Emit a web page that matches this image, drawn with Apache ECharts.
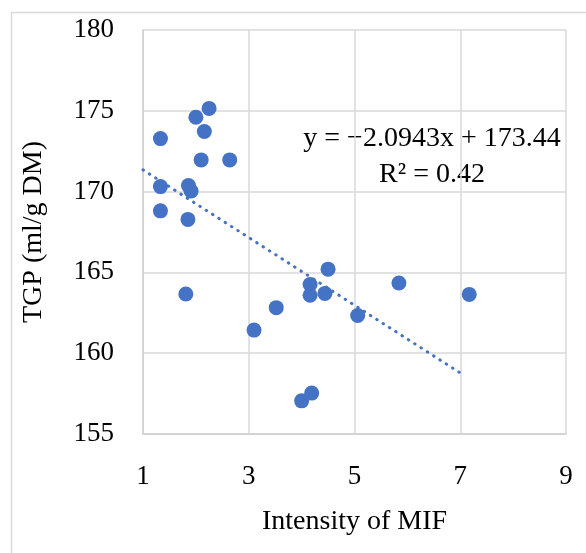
<!DOCTYPE html>
<html>
<head>
<meta charset="utf-8">
<script src="https://cdn.jsdelivr.net/npm/echarts@6/dist/echarts.min.js"></script>
<style>html,body{margin:0;padding:0;background:#fff}#c{width:586px;height:553px}</style>
</head>
<body>
<div id="c"></div>
<script>
var mifIntensity = [1.33, 2.00, 2.25, 2.16, 2.10, 2.64, 1.33, 1.86, 1.91, 1.33, 1.85, 1.81, 3.10, 3.52, 4.00, 4.19, 4.16, 4.16, 4.44, 4.50, 5.06, 5.84, 7.17];
var tgpValues   = [173.28, 174.60, 175.15, 173.72, 171.96, 171.96, 170.31, 170.37, 170.04, 168.81, 168.28, 163.66, 161.43, 162.82, 157.05, 157.53, 164.25, 163.59, 163.70, 165.20, 162.33, 164.34, 163.64];
var trendSlope = -2.0943;
var trendIntercept = 173.44;
var trendXRange = [1, 7.06];
var equationText = 'y = \u22122.0943x + 173.44';
var r2Text = 'R\u00b2 = 0.42';
var xTitle = 'Intensity of MIF';
var yTitle = 'TGP (ml/g DM)';

var points = mifIntensity.map(function (x, i) { return [x, tgpValues[i]]; });
var trend = trendXRange.map(function (x) { return [x, trendSlope * x + trendIntercept]; });

var FONT = '"Liberation Serif", "DejaVu Serif", serif';
var chart = echarts.init(document.getElementById('c'), null, {renderer: 'canvas'});
chart.setOption({
  animation: false,
  backgroundColor: '#fff',
  grid: {left: 143, right: 20, top: 30, bottom: 119, containLabel: false},
  xAxis: {
    type: 'value', min: 1, max: 9, interval: 2,
    name: xTitle, nameLocation: 'middle', nameGap: 74,
    nameTextStyle: {fontFamily: FONT, fontSize: 28, color: '#000'},
    axisLine: {show: true, lineStyle: {color: '#d0d0d0', width: 1.5}},
    axisTick: {show: false},
    axisLabel: {fontFamily: FONT, fontSize: 27, color: '#000', margin: 29},
    splitLine: {show: true, lineStyle: {color: '#d9d9d9', width: 1.5}}
  },
  yAxis: {
    type: 'value', min: 155, max: 180, interval: 5,
    name: yTitle, nameLocation: 'middle', nameGap: 95, nameRotate: 90,
    nameTextStyle: {fontFamily: FONT, fontSize: 28, color: '#000'},
    axisLine: {show: true, lineStyle: {color: '#d0d0d0', width: 1.5}},
    axisTick: {show: false},
    axisLabel: {fontFamily: FONT, fontSize: 27, color: '#000', margin: 29},
    splitLine: {show: true, lineStyle: {color: '#d9d9d9', width: 1.5}}
  },
  series: [
    {
      type: 'line', data: trend, symbol: 'none', silent: true, z: 3,
      lineStyle: {color: '#4472C4', width: 3, type: [0.5, 7], cap: 'round'}
    },
    {
      type: 'scatter', data: points, symbol: 'circle', symbolSize: 15, z: 4,
      itemStyle: {color: '#4472C4', opacity: 1}
    }
  ],
  graphic: [
    {type: 'rect', left: 9, top: 10, shape: {width: 620, height: 600},
     style: {fill: 'none', stroke: '#d9d9d9', lineWidth: 1.5}, silent: true},
    {type: 'text', x: 432, y: 139, style: {text: equationText, font: '28px ' + FONT, fill: '#000', textAlign: 'center', textVerticalAlign: 'middle'}},
    {type: 'text', x: 432, y: 175, style: {text: r2Text, font: '28px ' + FONT, fill: '#000', textAlign: 'center', textVerticalAlign: 'middle'}}
  ]
});
</script>
</body>
</html>
